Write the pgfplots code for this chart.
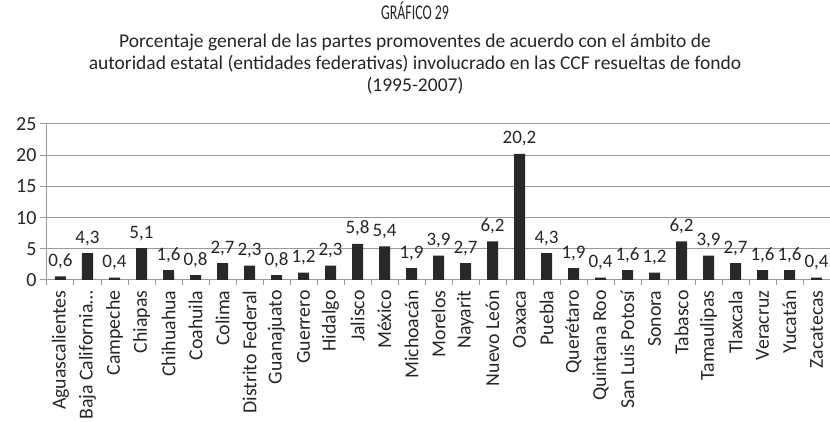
\documentclass[border=0pt]{standalone}
\usepackage{pgfplots}
\pgfplotsset{compat=1.18}
\usepackage{fontspec}
\setmainfont{Carlito}
\newfontfamily\condfont[FakeStretch=0.66]{Carlito}
\definecolor{barc}{HTML}{282828}
\definecolor{gridc}{HTML}{999999}
\definecolor{txt}{HTML}{262626}
\begin{document}
\begin{tikzpicture}
\useasboundingbox (-47pt,-142pt) rectangle (783pt,280pt);
\begin{axis}[
  scale only axis, width=783pt, height=156pt,
  at={(0,0)}, anchor=south west,
  xmin=-0.5, xmax=28.5, ymin=0, ymax=25,
  axis x line*=bottom, axis y line*=left,
  axis line style={gridc, line width=1pt},
  ytick={0,5,...,25},
  ymajorgrids, grid style={gridc, line width=1pt},
  xtick={0,...,28},
  xticklabels={Aguascalientes,{Baja California\ldots},Campeche,Chiapas,Chihuahua,Coahuila,Colima,Distrito Federal,Guanajuato,Guerrero,Hidalgo,Jalisco,México,Michoacán,Morelos,Nayarit,Nuevo León,Oaxaca,Puebla,Querétaro,Quintana Roo,San Luis Potosí,Sonora,Tabasco,Tamaulipas,Tlaxcala,Veracruz,Yucatán,Zacatecas},
  x tick label style={rotate=90, anchor=east, font=\fontsize{19.8}{19.8}\selectfont, text=txt},
  y tick label style={font=\fontsize{20}{20}\selectfont, text=txt},
  major x tick style={draw=none},
  minor xtick={-0.5,0.5,...,28.5},
  minor x tick style={gridc, line width=1pt},
  major y tick style={gridc, line width=1pt},
  tick align=outside, minor tick length=5pt, major tick length=7pt,
  /pgf/number format/assume math mode=true,
  ybar, bar width=11pt,
  nodes near coords,
  nodes near coords style={font=\fontsize{19}{19}\selectfont, text=txt, yshift=4pt, /pgf/number format/.cd, use comma, fixed, fixed zerofill, precision=1},
  title style={align=center, font=\fontsize{19.5}{21.8}\selectfont, text=txt, at={(0.5,1)}, anchor=north, inner sep=0pt, yshift=116pt, xshift=-23.5pt},
  title={{\condfont\fontsize{21}{21}\selectfont GRÁFICO 29}\\[6pt]Porcentaje general de las partes promoventes de acuerdo con el ámbito de\\autoridad estatal (entidades federativas) involucrado en las CCF resueltas de fondo\\(1995-2007)},
]
\addplot[fill=barc, draw=none] coordinates {
(0,0.6) (1,4.3) (2,0.4) (3,5.1) (4,1.6) (5,0.8) (6,2.7) (7,2.3) (8,0.8) (9,1.2)
(10,2.3) (11,5.8) (12,5.4) (13,1.9) (14,3.9) (15,2.7) (16,6.2) (17,20.2) (18,4.3) (19,1.9)
(20,0.4) (21,1.6) (22,1.2) (23,6.2) (24,3.9) (25,2.7) (26,1.6) (27,1.6) (28,0.4)};
\end{axis}
\end{tikzpicture}
\end{document}
